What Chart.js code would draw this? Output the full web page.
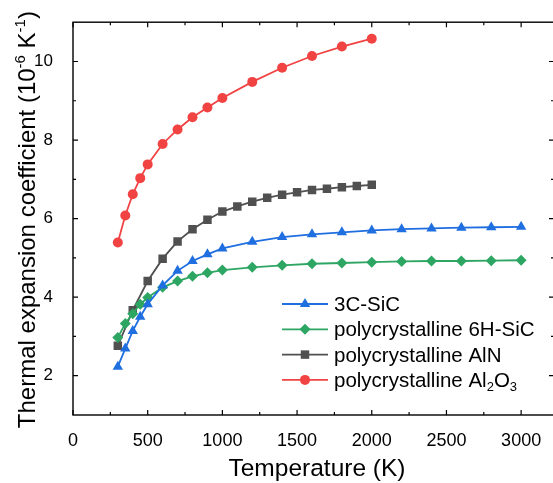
<!DOCTYPE html>
<html>
<head>
<meta charset="utf-8">
<script src="https://cdn.jsdelivr.net/npm/chart.js@4.4.0/dist/chart.umd.min.js"></script>
<style>
  html, body { margin: 0; padding: 0; overflow: hidden; background: #fff; }
  canvas { display: block; }
</style>
</head>
<body>
<canvas id="cteChart" width="560" height="483"></canvas>
<script>
const FONT = "'Liberation Sans', Arial, sans-serif";

// temperatures (K)
const tempSiC = [300, 350, 400, 450, 500, 600, 700, 800, 900, 1000, 1200, 1400, 1600, 1800, 2000, 2200, 2400, 2600, 2800, 3000];
const tempAlN = [300, 400, 500, 600, 700, 800, 900, 1000, 1100, 1200, 1300, 1400, 1500, 1600, 1700, 1800, 1900, 2000];
const tempAl2O3 = [300, 350, 400, 450, 500, 600, 700, 800, 900, 1000, 1200, 1400, 1600, 1800, 2000];

// thermal expansion coefficient (10^-6 K^-1)
const sic3C = [2.23, 2.69, 3.14, 3.50, 3.82, 4.30, 4.67, 4.92, 5.09, 5.24, 5.41, 5.53, 5.60, 5.65, 5.70, 5.73, 5.75, 5.77, 5.78, 5.79];
const sic6H = [2.97, 3.33, 3.58, 3.82, 3.99, 4.25, 4.41, 4.53, 4.62, 4.69, 4.76, 4.81, 4.85, 4.87, 4.89, 4.91, 4.92, 4.92, 4.93, 4.94];
const alN = [2.76, 3.67, 4.41, 4.98, 5.42, 5.73, 5.97, 6.18, 6.31, 6.43, 6.53, 6.61, 6.67, 6.73, 6.76, 6.80, 6.83, 6.86];
const al2O3 = [5.39, 6.08, 6.62, 7.03, 7.38, 7.90, 8.27, 8.58, 8.83, 9.07, 9.48, 9.84, 10.14, 10.38, 10.58];

// axis ticks
const xTicks = [0, 500, 1000, 1500, 2000, 2500, 3000];
const xMinorTicks = [250, 750, 1250, 1750, 2250, 2750];
const yTicks = [2, 4, 6, 8, 10];
const yMinorTicks = [3, 5, 7, 9];

const toPoints = (xs, ys) => xs.map((x, i) => ({ x: x, y: ys[i] }));

function series(label, xs, ys, color, style, radius) {
  return {
    label: label,
    data: toPoints(xs, ys),
    showLine: true,
    borderColor: color,
    backgroundColor: color,
    borderWidth: 1.8,
    pointStyle: style,
    pointRadius: radius,
    pointBorderWidth: 0,
    pointBackgroundColor: color,
    tension: 0
  };
}

const datasets = [
  series('3C-SiC', tempSiC, sic3C, '#1f6fe0', 'triangle', 6),
  series('polycrystalline 6H-SiC', tempSiC, sic6H, '#2ea663', 'rectRot', 5.5),
  series('polycrystalline AlN', tempAlN, alN, '#505050', 'rect', 6),
  series('polycrystalline Al2O3', tempAl2O3, al2O3, '#f24343', 'circle', 5)
];

// text with sub/superscripts: parts = [[text, shift], ...] shift: 0 normal, 1 sup, -1 sub
function drawRich(ctx, parts, x, y, size, align) {
  const small = Math.round(size * 0.62);
  const widths = parts.map(p => {
    ctx.font = (p[1] ? small : size) + 'px ' + FONT;
    return ctx.measureText(p[0]).width;
  });
  const total = widths.reduce((a, b) => a + b, 0);
  let cx = align === 'center' ? x - total / 2 : x;
  ctx.textAlign = 'left';
  ctx.textBaseline = 'alphabetic';
  parts.forEach((p, i) => {
    ctx.font = (p[1] ? small : size) + 'px ' + FONT;
    const dy = p[1] === 1 ? -size * 0.42 : (p[1] === -1 ? size * 0.22 : 0);
    ctx.fillText(p[0], cx, y + dy);
    cx += widths[i];
  });
}

const framePlugin = {
  id: 'frame',
  afterDraw(chart) {
    const ctx = chart.ctx;
    const a = chart.chartArea;
    const sx = chart.scales.x, sy = chart.scales.y;
    ctx.save();
    ctx.strokeStyle = '#000';
    ctx.lineWidth = 1.4;
    ctx.strokeRect(a.left, a.top, a.right - a.left, a.bottom - a.top);

    ctx.lineWidth = 1.2;
    ctx.beginPath();
    const xt = (v, len) => {
      const px = sx.getPixelForValue(v);
      ctx.moveTo(px, a.bottom); ctx.lineTo(px, a.bottom - len);
      ctx.moveTo(px, a.top); ctx.lineTo(px, a.top + len);
    };
    const yt = (v, len) => {
      const py = sy.getPixelForValue(v);
      ctx.moveTo(a.left, py); ctx.lineTo(a.left + len, py);
      ctx.moveTo(a.right, py); ctx.lineTo(a.right - len, py);
    };
    xTicks.forEach(v => xt(v, 5));
    xMinorTicks.forEach(v => xt(v, 3));
    yTicks.forEach(v => yt(v, 5));
    yMinorTicks.forEach(v => yt(v, 3));
    ctx.stroke();

    // axis titles
    ctx.fillStyle = '#000';
    drawRich(ctx, [['Temperature (K)', 0]], 317, 476, 24.5, 'center');
    ctx.save();
    ctx.translate(35, (a.top + a.bottom) / 2 + 1);
    ctx.rotate(-Math.PI / 2);
    drawRich(ctx, [['Thermal expansion coefficient (10', 0], ['-6', 1], [' K', 0], ['-1', 1], [')', 0]], 0, 0, 24, 'center');
    ctx.restore();

    // legend
    const rows = [
      [['3C-SiC', 0]],
      [['polycrystalline 6H-SiC', 0]],
      [['polycrystalline AlN', 0]],
      [['polycrystalline Al', 0], ['2', -1], ['O', 0], ['3', -1]]
    ];
    chart.data.datasets.forEach((ds, i) => {
      const y = 304 + i * 25.3;
      ctx.strokeStyle = ds.borderColor;
      ctx.lineWidth = 1.8;
      ctx.beginPath();
      ctx.moveTo(282, y); ctx.lineTo(328, y);
      ctx.stroke();
      ctx.fillStyle = ds.backgroundColor;
      Chart.helpers.drawPoint(ctx, { pointStyle: ds.pointStyle, radius: ds.pointRadius, rotation: 0, borderWidth: 0 }, 305, y);
      ctx.fillStyle = '#000';
      drawRich(ctx, rows[i], 334, y + 7, 20.5, 'left');
    });
    ctx.restore();
  }
};

new Chart(document.getElementById('cteChart'), {
  type: 'scatter',
  data: { datasets: datasets },
  plugins: [framePlugin],
  options: {
    responsive: false,
    animation: false,
    layout: { padding: { top: 22, right: 4, left: 0, bottom: 0 } },
    plugins: {
      legend: { display: false },
      tooltip: { enabled: false }
    },
    scales: {
      x: {
        type: 'linear',
        min: 0,
        max: 3220,
        grid: { display: false },
        border: { display: false },
        afterBuildTicks: s => { s.ticks = xTicks.map(v => ({ value: v })); },
        afterFit: s => { s.height = 68; },
        ticks: { color: '#000', padding: 7, maxRotation: 0, font: { family: FONT, size: 18 }, callback: v => String(v) }
      },
      y: {
        type: 'linear',
        min: 1,
        max: 11,
        grid: { display: false },
        border: { display: false },
        afterBuildTicks: s => { s.ticks = yTicks.map(v => ({ value: v })); },
        afterFit: s => { s.width = 73; },
        ticks: { color: '#000', padding: 12, font: { family: FONT, size: 17 }, callback: v => String(v) }
      }
    }
  }
});
</script>
</body>
</html>
